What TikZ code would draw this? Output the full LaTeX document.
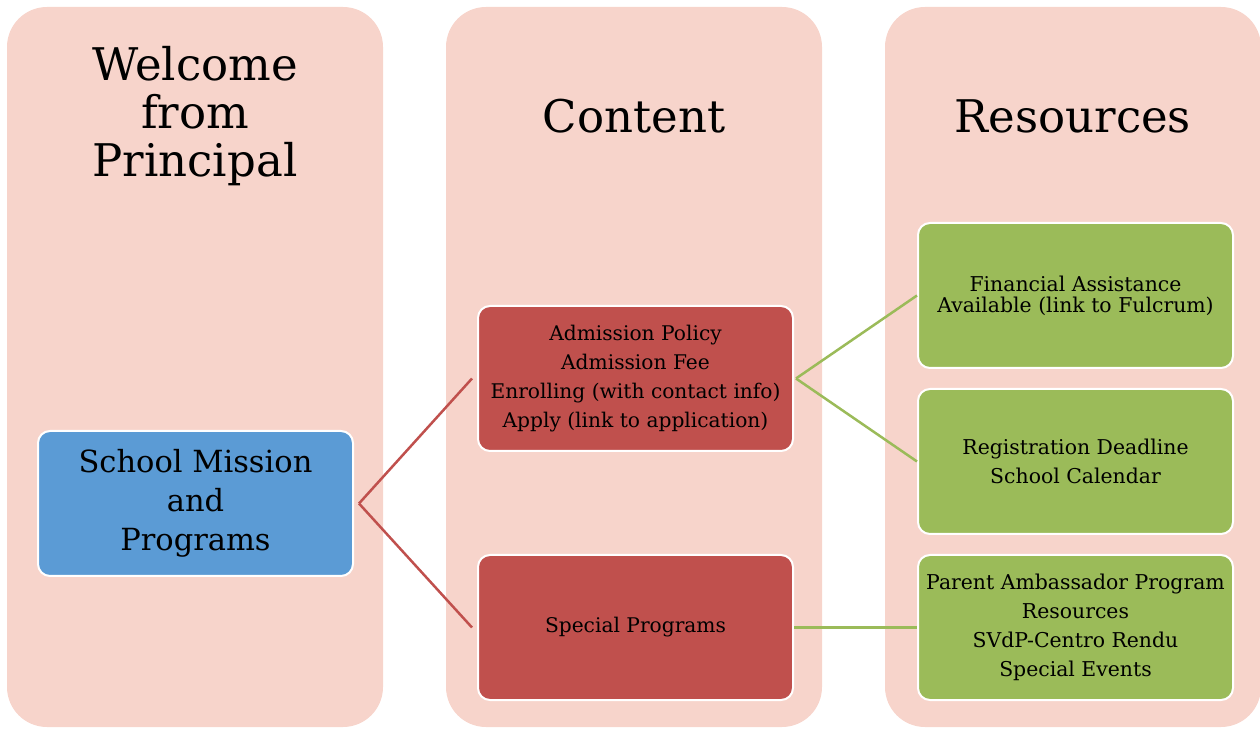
\documentclass[tikz,border=0pt]{standalone}
\usepackage{fontspec}
\setmainfont{DejaVu Serif}
\definecolor{colbg}{HTML}{F7D4CB}
\definecolor{bluebox}{HTML}{5B9BD5}
\definecolor{redbox}{HTML}{C0504D}
\definecolor{greenbox}{HTML}{9BBB59}
\begin{document}
\begin{tikzpicture}[x=1pt,y=1pt,
  column/.style={fill=colbg, draw=none, rounded corners=40pt, minimum width=376pt, minimum height=720pt, inner sep=0pt},
  title/.style={align=center, font=\fontsize{45}{48}\selectfont, inner sep=0pt},
  card/.style={draw=white, line width=2pt, rounded corners=12pt, minimum width=315pt, minimum height=145pt, align=center, inner sep=2pt},
  bluecard/.style={card, fill=bluebox, font=\fontsize{30.5}{39}\selectfont},
  redcard/.style={card, fill=redbox, font=\fontsize{20.2}{29}\selectfont},
  greencard/.style={card, fill=greenbox, font=\fontsize{20.4}{29}\selectfont},
  redline/.style={draw=redbox, line width=2.5pt},
  greenline/.style={draw=greenbox, line width=2.5pt}
]
\useasboundingbox (0,0) rectangle (1260,728);
\node[column] (c1) at (195,361) {};
\node[column] (c2) at (634,361) {};
\node[column] (c3) at (1073,361) {};
\node[title] (t1) at (195,612) {Welcome\\from\\Principal};
\node[title] (t2) at (634,612) {Content};
\node[title] (t3) at (1073,612) {Resources};
\node[bluecard] (b) at (195.5,224.5) {School Mission\\and\\Programs};
\node[redcard] (r1) at (635.5,349.5) {Admission Policy\\Admission Fee\\Enrolling (with contact info)\\Apply (link to application)};
\node[redcard] (r2) at (635.5,100.5) {Special Programs};
\node[greencard, font=\fontsize{20.4}{21}\selectfont] (g1) at (1075.5,432.5) {Financial Assistance\\Available (link to Fulcrum)};
\node[greencard] (g2) at (1075.5,266.5) {Registration Deadline\\School Calendar};
\node[greencard] (g3) at (1075.5,100.5) {Parent Ambassador Program\\Resources\\SVdP-Centro Rendu\\Special Events};
\coordinate (bj) at ([xshift=5pt]b.east);
\coordinate (rj) at ([xshift=2pt]r1.east);
\draw[redline] (bj) -- ([xshift=-5pt]r1.west);
\draw[redline] (bj) -- ([xshift=-5pt]r2.west);
\draw[greenline] (rj) -- (g1.west);
\draw[greenline] (rj) -- (g2.west);
\draw[greenline] (r2.east) -- (g3.west);
\end{tikzpicture}
\end{document}
